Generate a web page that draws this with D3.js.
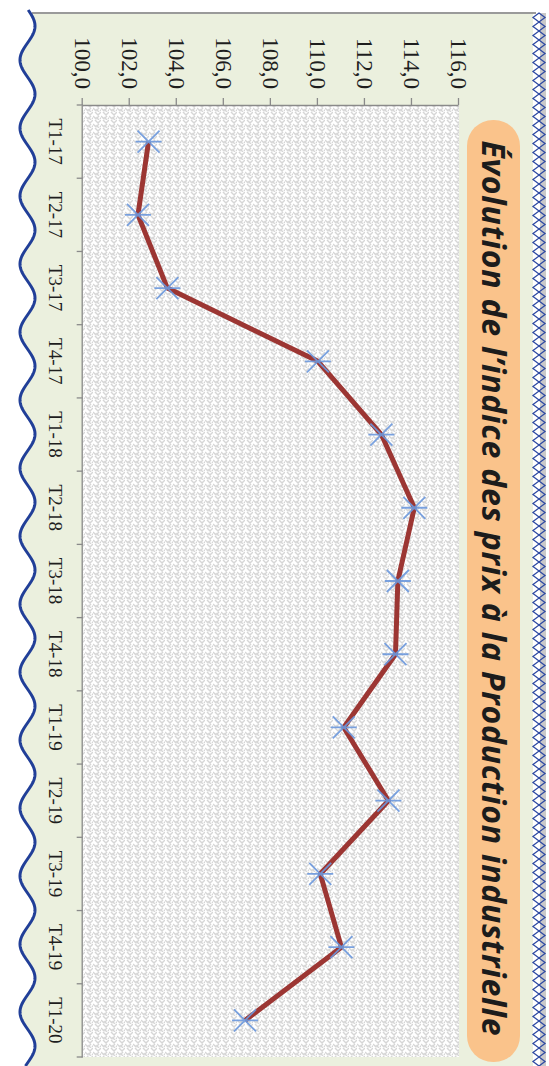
<!DOCTYPE html>
<html>
<head>
<meta charset="utf-8">
<script src="https://cdn.jsdelivr.net/npm/d3@7"></script>
<style>
  body { margin: 0; background: #fff; }
  svg { display: block; }
</style>
</head>
<body>
<div id="chart"></div>
<script>
const categories = ["T1-17", "T2-17", "T3-17", "T4-17", "T1-18", "T2-18", "T3-18",
  "T4-18", "T1-19", "T2-19", "T3-19", "T4-19", "T1-20"];
const values = [102.8, 102.35, 103.6, 110.0, 112.7, 114.1, 113.4,
  113.3, 111.1, 113.0, 110.1, 111.0, 106.9];
const valueTicks = [100, 102, 104, 106, 108, 110, 112, 114, 116];
const title = "Évolution de l’indice des prix à la Production industrielle";

const width = 549, height = 1066;

const svg = d3.select("#chart").append("svg")
  .attr("width", width)
  .attr("height", height);

const defs = svg.append("defs");
const pat = defs.append("pattern")
  .attr("id", "weave")
  .attr("patternUnits", "userSpaceOnUse")
  .attr("width", 8).attr("height", 8);
pat.append("rect").attr("width", 8).attr("height", 8).attr("fill", "#fff");
pat.append("path")
  .attr("d", "M0,0L3,3L0,6M4,2L7,5L4,8M4,-2L7,1M8,2L5,5")
  .attr("fill", "none")
  .attr("stroke", "#d6d6d6")
  .attr("stroke-width", 1.4);

// page frame (wavy edge, green panel, diamond border)
const waveX = y => 27.5 - 7.5 * Math.cos(2 * Math.PI * (y - 60) / 68);
const wavePts = d3.range(10, height + 1, 1).map(y => [waveX(y), y]);

svg.append("path")
  .attr("d", d3.line()(wavePts.concat([[533, height], [533, 13], [waveX(13), 13]])))
  .attr("fill", "#ebf0de");

svg.append("line")
  .attr("x1", 32).attr("x2", 536)
  .attr("y1", 13).attr("y2", 13)
  .attr("stroke", "#9a9a9a").attr("stroke-width", 2);

svg.append("rect")
  .attr("x", 540).attr("y", 13).attr("width", 6).attr("height", height)
  .attr("fill", "#c9c9c9");

let dpath = "";
for (let y = 13; y < height; y += 9) {
  dpath += `M539,${y}L545,${y + 4.5}L539,${y + 9}L533,${y + 4.5}Z`;
}
svg.append("path")
  .attr("d", dpath)
  .attr("fill", "none")
  .attr("stroke", "#2f4ba3")
  .attr("stroke-width", 1.3);

svg.append("path")
  .attr("d", d3.line()(wavePts))
  .attr("fill", "none")
  .attr("stroke", "#213f98")
  .attr("stroke-width", 3);

// chart drawn upright, then turned a quarter clockwise
const g = svg.append("g")
  .attr("transform", `translate(${width},0) rotate(90)`);

const x = d3.scaleBand().domain(categories).range([105, 1057]).padding(0);
const y = d3.scaleLinear().domain([100, 116]).range([466.3, 90]);

g.append("rect")
  .attr("x", 105).attr("y", y(116))
  .attr("width", 1057 - 105).attr("height", y(100) - y(116))
  .attr("fill", "url(#weave)");

// value axis
const yAxis = g.append("g")
  .attr("transform", "translate(105,0)")
  .call(d3.axisLeft(y).tickValues(valueTicks)
    .tickFormat(d => d.toFixed(1).replace(".", ","))
    .tickSize(7).tickPadding(9).tickSizeOuter(0));
yAxis.selectAll("path, line").attr("stroke", "#8a8a8a").attr("stroke-width", 1.3);
yAxis.selectAll("text")
  .attr("font-family", "'Liberation Serif', 'Times New Roman', serif")
  .attr("font-size", 23)
  .attr("fill", "#1e1e1e");

// category axis
const xAxis = g.append("g")
  .attr("transform", `translate(0,${y(100)})`)
  .call(d3.axisBottom(x).tickSize(0).tickPadding(20).tickSizeOuter(0));
xAxis.select("path").attr("stroke", "#8a8a8a").attr("stroke-width", 1.3);
xAxis.selectAll("text")
  .attr("font-family", "'Liberation Serif', 'Times New Roman', serif")
  .attr("font-size", 19)
  .attr("fill", "#1e1e1e");
xAxis.selectAll(".sep")
  .data(categories.map(c => x(c)).concat([x.range()[1]]))
  .enter().append("line")
  .attr("x1", d => d).attr("x2", d => d)
  .attr("y1", 0).attr("y2", 6)
  .attr("stroke", "#8a8a8a").attr("stroke-width", 1.3);

// series
const pts = categories.map((c, i) => ({ c, v: values[i] }));
g.append("path")
  .datum(pts)
  .attr("d", d3.line().x(d => x(d.c) + x.bandwidth() / 2).y(d => y(d.v)))
  .attr("fill", "none")
  .attr("stroke", "#9c3633")
  .attr("stroke-width", 5)
  .attr("stroke-linejoin", "round");

g.selectAll(".mk")
  .data(pts)
  .enter().append("path")
  .attr("transform", d => `translate(${x(d.c) + x.bandwidth() / 2},${y(d.v)})`)
  .attr("d", "M-11,-11L11,11M-11,11L11,-11M0,-13L0,13")
  .attr("fill", "none")
  .attr("stroke", "#6b98dd")
  .attr("stroke-opacity", 0.9)
  .attr("stroke-width", 1.8);

// title band
g.append("rect")
  .attr("x", 120).attr("y", width - 520)
  .attr("width", 1062 - 120).attr("height", 53)
  .attr("rx", 26).attr("ry", 26)
  .attr("fill", "#fac38b");

g.append("text")
  .attr("x", 588).attr("y", width - 494)
  .attr("text-anchor", "middle")
  .attr("dominant-baseline", "central")
  .attr("font-family", "'Open Sans', 'Noto Sans', sans-serif")
  .attr("font-weight", "bold")
  .attr("font-style", "italic")
  .attr("font-size", 32)
  .attr("textLength", 895)
  .attr("fill", "#1c1c1c")
  .text(title);
</script>
</body>
</html>
